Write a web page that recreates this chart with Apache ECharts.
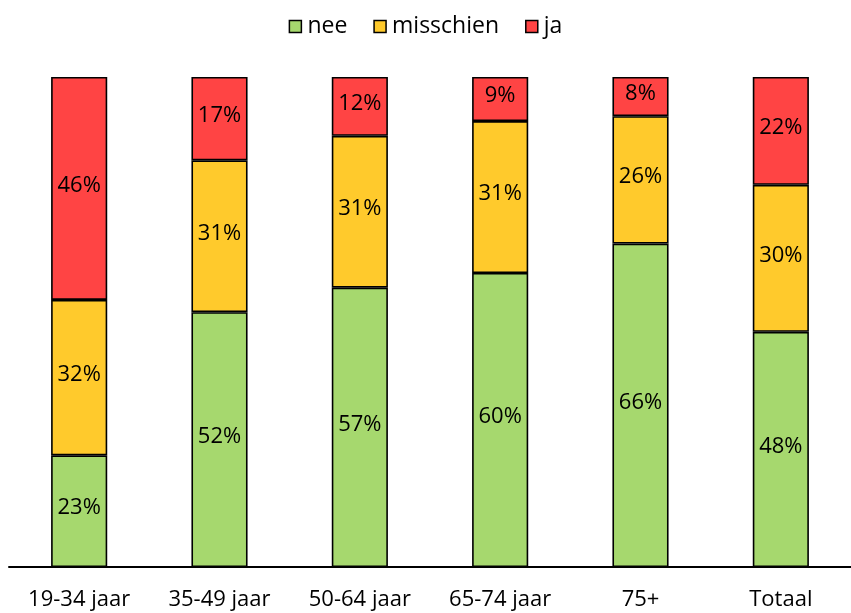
<!DOCTYPE html>
<html>
<head>
<meta charset="utf-8">
<script src="https://cdn.jsdelivr.net/npm/echarts@6/dist/echarts.min.js"></script>
<style>
  html, body { margin: 0; padding: 0; background: #fff; }
  #main { width: 851px; height: 613px; }
</style>
</head>
<body>
<div id="main"></div>
<script>
// leeftijdsgroepen
const categories = ['19-34 jaar', '35-49 jaar', '50-64 jaar', '65-74 jaar', '75+', 'Totaal'];
// aandelen per antwoord (balken lopen tot 100%)
const nee = [22.8, 52, 57, 60, 66, 48];
const misschien = [31.7, 31, 31, 31, 26, 30];
const ja = [45.5, 17, 12, 9, 8, 22];

const font = "'Open Sans', 'Noto Sans', sans-serif";

function serie(name, data, color) {
  return {
    name: name,
    type: 'bar',
    stack: 'totaal',
    barWidth: '40%',
    data: data,
    itemStyle: { color: color, borderColor: '#000', borderWidth: 1.6 },
    label: {
      show: true,
      position: 'inside',
      color: '#000',
      fontFamily: font,
      fontSize: 22,
      offset: [0, -3],
      formatter: p => Math.round(p.value) + '%'
    }
  };
}

const myChart = echarts.init(document.getElementById('main'));
myChart.setOption({
  animation: false,
  legend: {
    top: 10,
    left: 'center',
    icon: 'rect',
    itemWidth: 12,
    itemHeight: 12,
    itemGap: 26,
    itemStyle: { borderColor: '#000', borderWidth: 1.5 },
    textStyle: { fontFamily: font, fontSize: 23, color: '#000', padding: [0, 0, 0, 1] },
    data: ['nee', 'misschien', 'ja']
  },
  grid: { left: 9, right: -7, top: 77, bottom: 46 },
  xAxis: {
    type: 'category',
    data: categories,
    axisLine: { lineStyle: { color: '#000', width: 2 } },
    axisTick: { show: false },
    axisLabel: { color: '#000', fontFamily: font, fontSize: 22, margin: 22 }
  },
  yAxis: {
    type: 'value',
    min: 0,
    max: 100,
    show: false
  },
  series: [
    serie('nee', nee, '#a6d86e'),
    serie('misschien', misschien, '#ffca2c'),
    serie('ja', ja, '#ff4444')
  ]
});
</script>
</body>
</html>
